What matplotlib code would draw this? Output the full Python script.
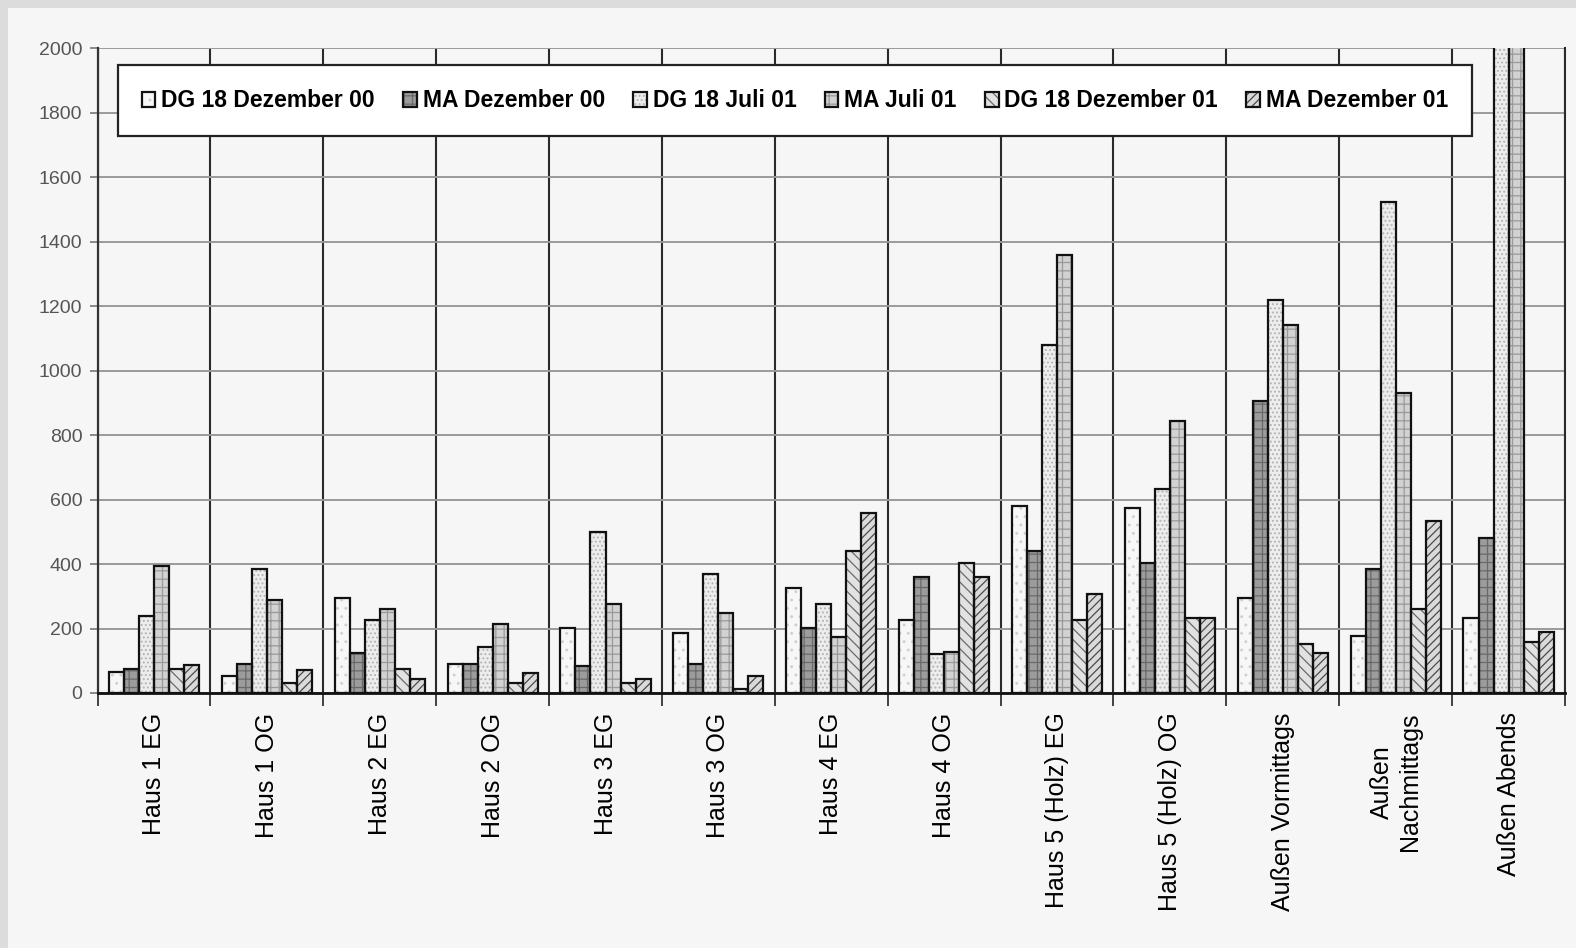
import numpy as np
import matplotlib
matplotlib.use('Agg')
import matplotlib.pyplot as plt
from matplotlib.patches import Rectangle

plt.rcParams['font.family'] = ['Liberation Sans', 'DejaVu Sans']
plt.rcParams['hatch.linewidth'] = 0.9

categories = ['Haus 1 EG', 'Haus 1 OG', 'Haus 2 EG', 'Haus 2 OG', 'Haus 3 EG',
              'Haus 3 OG', 'Haus 4 EG', 'Haus 4 OG', 'Haus 5 (Holz) EG',
              'Haus 5 (Holz) OG', 'Außen Vormittags', 'Außen\nNachmittags',
              'Außen Abends']

series = ['DG 18 Dezember 00', 'MA Dezember 00', 'DG 18 Juli 01',
          'MA Juli 01', 'DG 18 Dezember 01', 'MA Dezember 01']

dg_dez00 = [65, 53, 295, 90, 202, 186, 326, 227, 581, 574, 295, 177, 233]
ma_dez00 = [75, 90, 124, 90, 84, 90, 202, 360, 441, 404, 907, 385, 481]
dg_jul01 = [239, 385, 227, 143, 500, 370, 276, 121, 1081, 633, 1220, 1522, 2600]
ma_jul01 = [394, 289, 261, 214, 276, 248, 174, 127, 1360, 845, 1143, 932, 2500]
dg_dez01 = [75, 31, 75, 31, 31, 12, 441, 404, 227, 233, 152, 261, 158]
ma_dez01 = [86, 71, 43, 62, 43, 53, 559, 360, 307, 233, 124, 534, 189]
values = [dg_dez00, ma_dez00, dg_jul01, ma_jul01, dg_dez01, ma_dez01]

yticks = [0, 200, 400, 600, 800, 1000, 1200, 1400, 1600, 1800, 2000]

# grayscale fills: (face, hatch, hatch colour)
styles = [('#f7f7f7', '..', '#d0d0d0'),
          ('#9c9c9c', '++', '#6a6a6a'),
          ('#ededed', '....', '#b4b4b4'),
          ('#d2d2d2', '++', '#9a9a9a'),
          ('#e2e2e2', '\\\\\\', '#6a6a6a'),
          ('#dadada', '////', '#4a4a4a')]

fig = plt.figure(figsize=(15.76, 9.48), dpi=100, facecolor='#f6f6f6')
fig.patches.append(Rectangle((0, 0), 8 / 1576, 1, transform=fig.transFigure,
                             facecolor='#dcdcdc', edgecolor='none'))
fig.patches.append(Rectangle((0, 1 - 8 / 948), 1, 8 / 948, transform=fig.transFigure,
                             facecolor='#dcdcdc', edgecolor='none'))
ax = fig.add_axes([0.0619, 0.2690, 0.9311, 0.6801])
ax.set_facecolor('#f6f6f6')

x = np.arange(len(categories))
w = 0.133
handles = []
for j, (name, vals) in enumerate(zip(series, values)):
    face, hatch, hc = styles[j]
    pos = x + (j - 2.5) * w
    b1 = ax.bar(pos, vals, w, color=face, hatch=hatch, edgecolor=hc,
                linewidth=0, zorder=2)
    b2 = ax.bar(pos, vals, w, fill=False, edgecolor='#111111',
                linewidth=1.6, zorder=3)
    handles.append((b1, b2))

ax.set_xlim(-0.5, len(categories) - 0.5)
ax.set_ylim(0, 2000)
ax.set_yticks(yticks)
ax.set_xticks(x)
ax.set_xticklabels(categories, rotation=90, fontsize=18, va='top', ha='center',
                   multialignment='center')
ax.set_xticks(np.arange(len(categories) + 1) - 0.5, minor=True)
ax.tick_params(axis='x', which='major', length=0, pad=14)
ax.tick_params(axis='x', which='minor', length=9, width=1.2, color='#222222')
ax.tick_params(axis='y', length=6, width=1.2, color='#777777',
               labelsize=14, labelcolor='#555555', pad=5)

ax.grid(axis='y', color='#9a9a9a', linewidth=1.4, zorder=0)
ax.grid(axis='x', which='minor', color='#2a2a2a', linewidth=1.5, zorder=1)
ax.set_axisbelow(True)

ax.spines['top'].set_visible(False)
ax.spines['right'].set_color('#2a2a2a')
ax.spines['right'].set_linewidth(1.5)
ax.spines['left'].set_color('#333333')
ax.spines['left'].set_linewidth(1.6)
ax.spines['bottom'].set_color('#111111')
ax.spines['bottom'].set_linewidth(2.0)

leg = ax.legend(handles, series, loc='upper left',
                bbox_to_anchor=(0.0137, 0.9736, 0.923, 0), mode='expand',
                ncol=6, borderaxespad=0, frameon=True, fancybox=False,
                prop={'weight': 'bold', 'size': 16.5},
                handlelength=0.6, handleheight=0.6, handletextpad=0.25,
                borderpad=1.05)
leg.get_frame().set_edgecolor('#222222')
leg.get_frame().set_linewidth(1.6)
leg.get_frame().set_facecolor('white')
leg.get_frame().set_alpha(1)
leg.set_zorder(5)

fig.savefig('out.png', dpi=100, facecolor=fig.get_facecolor())
